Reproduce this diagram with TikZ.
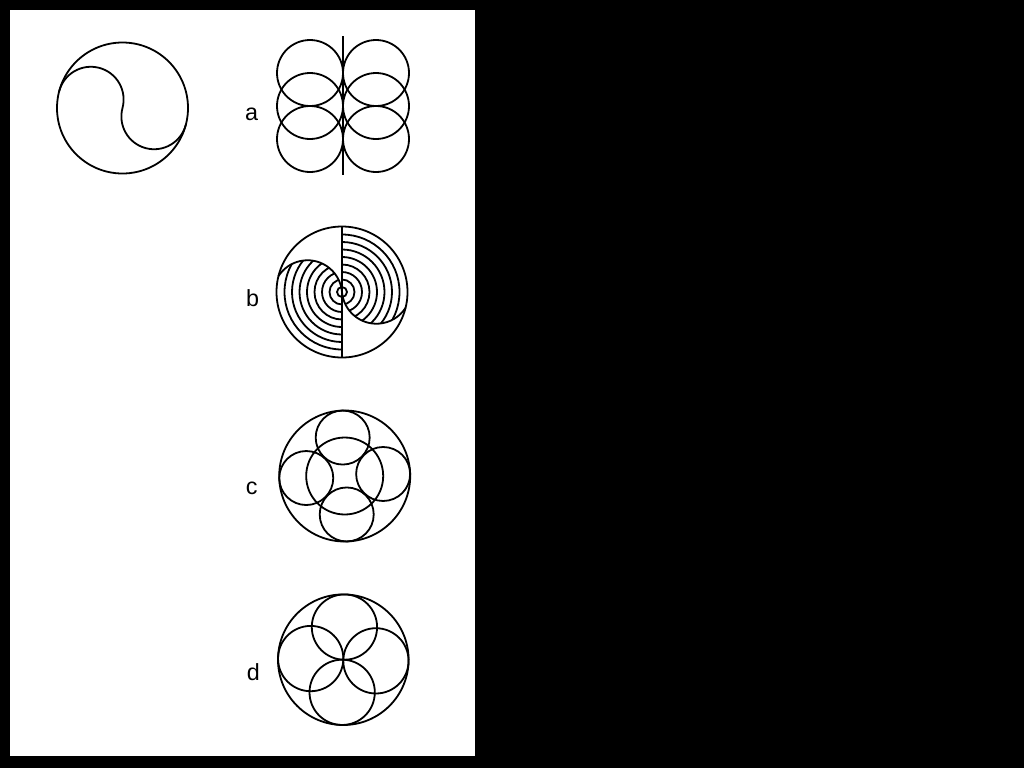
\documentclass[tikz,border=0pt]{standalone}
\usepackage{fontspec}
\setmainfont{Liberation Sans}
\begin{document}
\begin{tikzpicture}[x=0.75pt,y=-0.75pt,
  fig/.style={draw=black, line width=1.35pt},
  lbl/.style={font=\fontsize{17.5}{20}\selectfont, anchor=base, inner sep=0pt}]
\useasboundingbox (0,0) rectangle (1024,768);
\fill[black] (0,0) rectangle (1024,768);
\fill[white] (10,10) rectangle (475,756);

% top-left: yin-yang outline
\draw[fig] (122.5,108) circle[radius=65.5];
\draw[fig] (59.23,91.05) arc[start angle=195,end angle=375,radius=32.75]
                        arc[start angle=195,end angle=15,radius=32.75];

% a
\node[lbl] (la) at (251.7,120) {a};
\draw[fig] (343,36) -- (343,175);
\foreach \yy in {73,106,139}{
  \draw[fig] (310,\yy) circle[radius=33];
  \draw[fig] (376,\yy) circle[radius=33];
}

% b
\node[lbl] (lb) at (252.7,306) {b};
\begin{scope}
  \clip (342,292) arc[start angle=355.3,end angle=212.7,radius=34.57]
                  arc[start angle=194,end angle=90,radius=65.5] -- cycle
        (342,292) arc[start angle=175.3,end angle=32.7,radius=34.57]
                  arc[start angle=14,end angle=-90,radius=65.5] -- cycle;
  \foreach \rr in {12.5,20,...,57.5}{
    \draw[fig] (342,292) circle[radius=\rr];
  }
\end{scope}
\draw[fig] (342,292) circle[radius=5];
\draw[fig] (342,292) circle[radius=65.5];
\draw[fig] (342,226.5) -- (342,357.5);
\draw[fig] (278.45,276.15) arc[start angle=212.7,end angle=355.3,radius=34.57]
                           arc[start angle=175.3,end angle=32.7,radius=34.57];

% c
\node[lbl] (lc) at (251.7,494) {c};
\draw[fig] (344.7,476) circle[radius=65.5];
\draw[fig] (344.7,476) circle[radius=38.5];
\foreach \aa in {267,357,87,177}{
  \draw[fig] (344.7,476) ++(\aa:38.5) circle[radius=27];
}

% d
\node[lbl] (ld) at (253.3,680) {d};
\draw[fig] (343.3,659.7) circle[radius=65.3];
\foreach \aa in {2,92,182,272}{
  \draw[fig] (343.3,659.7) ++(\aa:32.65) circle[radius=32.65];
}
\end{tikzpicture}
\end{document}
